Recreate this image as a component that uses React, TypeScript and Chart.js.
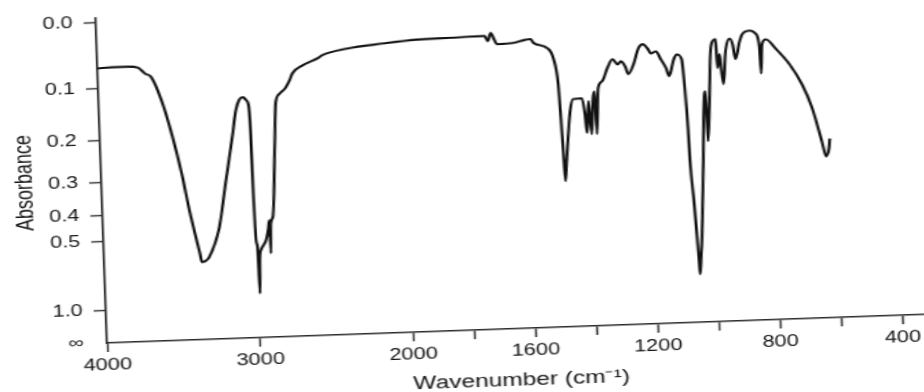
import React, { useEffect, useRef } from 'react';
import { Chart, registerables, LinearScale } from 'chart.js';

Chart.register(...registerables);

// Spectrum (wavenumber in cm^-1, absorbance)
const WAVENUMBERS = [4000, 3900, 3800, 3736, 3690, 3651, 3590, 3531, 3474, 3435, 3401, 3373, 3361, 3340, 3313, 3240, 3189, 3131, 3106, 3080, 3056, 3035, 3024, 3014, 3010, 3003, 2995, 2989, 2982, 2974, 2955, 2938, 2920, 2912, 2909, 2903, 2888, 2861, 2844, 2816, 2776, 2749, 2728, 2662, 2551, 2532, 2370, 2125, 1953, 1846, 1732, 1722, 1712, 1700, 1693, 1638, 1600, 1582, 1573, 1528, 1510, 1497, 1492, 1488, 1484, 1478, 1461, 1450, 1421, 1413, 1408, 1400, 1393, 1385, 1379, 1376, 1367, 1353, 1335, 1317, 1301, 1290, 1276, 1267, 1249, 1231, 1217, 1201, 1191, 1174, 1159, 1143, 1134, 1117, 1107, 1091, 1084, 1078, 1075, 1067, 1061, 1057, 1055, 1050, 1044, 1033, 1021, 1017, 1014, 1005, 996, 988, 978, 975, 967, 964, 957, 947, 932, 923, 915, 900, 889, 866, 846, 836, 833, 827, 814, 783, 739, 700, 670, 642, 630, 620, 616];
const ABSORBANCE = [0.067, 0.066, 0.066, 0.068, 0.078, 0.084, 0.124, 0.189, 0.283, 0.383, 0.478, 0.569, 0.617, 0.612, 0.591, 0.458, 0.314, 0.194, 0.148, 0.128, 0.124, 0.13, 0.136, 0.195, 0.346, 0.517, 0.55, 0.86, 0.6, 0.565, 0.54, 0.519, 0.47, 0.438, 0.582, 0.45, 0.427, 0.235, 0.137, 0.12, 0.11, 0.098, 0.086, 0.074, 0.062, 0.059, 0.05, 0.044, 0.04, 0.039, 0.038, 0.046, 0.034, 0.045, 0.051, 0.05, 0.046, 0.045, 0.051, 0.06, 0.076, 0.12, 0.186, 0.261, 0.342, 0.286, 0.172, 0.149, 0.148, 0.18, 0.22, 0.154, 0.223, 0.149, 0.136, 0.223, 0.13, 0.118, 0.096, 0.081, 0.09, 0.085, 0.094, 0.107, 0.091, 0.065, 0.059, 0.066, 0.074, 0.071, 0.084, 0.099, 0.113, 0.085, 0.077, 0.085, 0.136, 0.217, 0.298, 0.422, 0.561, 0.72, 0.825, 0.7, 0.562, 0.319, 0.149, 0.143, 0.249, 0.163, 0.074, 0.058, 0.055, 0.102, 0.079, 0.096, 0.131, 0.075, 0.055, 0.064, 0.088, 0.06, 0.048, 0.044, 0.049, 0.069, 0.114, 0.066, 0.058, 0.073, 0.1, 0.137, 0.184, 0.26, 0.298, 0.278, 0.253];

const X_TICKS = [4000, 3000, 2000, 1800, 1600, 1400, 1200, 1000, 800, 600, 400];
const X_TICK_LABELS = ['4000', '3000', '2000', '', '1600', '', '1200', '', '800', '', '400'];
const Y_TICKS = [0, 0.1, 0.2, 0.3, 0.4, 0.5, 1.0, Infinity];
const Y_TICK_LABELS = ['0.0', '0.1', '0.2', '0.3', '0.4', '0.5', '1.0', '\u221E'];

const X_MIN = 300;
const X_MAX = 4000;
const T_MIN = 0;
const T_MAX = 1.015;

const FONT = 'Liberation Sans, Arial, Helvetica, sans-serif';
const INK = '#141414';

// IR charts compress the 4000-2000 region by a factor of two
const fold = (w: number) => (w > 2000 ? 2000 + (w - 2000) / 2 : w);

class WavenumberScale extends LinearScale {
  static id = 'wavenumber';
  static defaults = LinearScale.defaults;
  determineDataLimits() {
    this.min = X_MIN;
    this.max = X_MAX;
  }
  buildTicks() {
    return X_TICKS.map((value) => ({ value }));
  }
  getPixelForValue(v: any) {
    if (v === null || v === undefined || Number.isNaN(v)) return NaN;
    const d = (fold(this.max) - fold(v)) / (fold(this.max) - fold(this.min));
    return this.getPixelForDecimal(d);
  }
  getValueForPixel(p: number) {
    const d = this.getDecimalForPixel(p);
    const f = fold(this.max) - d * (fold(this.max) - fold(this.min));
    return f > 2000 ? 2000 + (f - 2000) * 2 : f;
  }
}

// Absorbance axis drawn linear in transmittance (T = 10^-A)
class AbsorbanceScale extends LinearScale {
  static id = 'absorbance';
  static defaults = LinearScale.defaults;
  determineDataLimits() {
    this.min = T_MIN;
    this.max = T_MAX;
  }
  buildTicks() {
    return Y_TICKS.map((value) => ({ value }));
  }
  getPixelForValue(a: any) {
    if (a === null || a === undefined || Number.isNaN(a)) return NaN;
    const t = Math.pow(10, -a);
    return this.getPixelForDecimal((t - this.min) / (this.max - this.min));
  }
  getValueForPixel(p: number) {
    const t = this.min + this.getDecimalForPixel(p) * (this.max - this.min);
    return t > 0 ? -Math.log10(t) : Infinity;
  }
}

Chart.register(WavenumberScale, AbsorbanceScale);

export default function App() {
  const ref = useRef<HTMLCanvasElement | null>(null);

  useEffect(() => {
    if (!ref.current) return;
    const chart = new Chart(ref.current, {
      type: 'line',
      data: {
        datasets: [
          {
            data: WAVENUMBERS.map((x, i) => ({ x, y: ABSORBANCE[i] })),
            borderColor: '#111111',
            borderWidth: 2.1,
            pointRadius: 0,
            cubicInterpolationMode: 'monotone',
            borderJoinStyle: 'round',
            fill: false,
          },
        ],
      },
      options: {
        animation: false,
        responsive: false,
        events: [],
        layout: { padding: { left: 0, right: 12.5, top: 17, bottom: 0 } },
        plugins: { legend: { display: false }, tooltip: { enabled: false } },
        scales: {
          x: {
            type: 'wavenumber',
            position: 'bottom',
            afterFit: (s: any) => {
              s.height = 97;
            },
            border: { display: true, color: '#2a2a2a', width: 1.6 },
            grid: {
              display: true,
              drawOnChartArea: false,
              drawTicks: true,
              tickLength: 9,
              tickWidth: 1.4,
              tickColor: '#2a2a2a',
            },
            ticks: {
              autoSkip: false,
              maxRotation: 0,
              minRotation: 0,
              padding: 4,
              color: INK,
              font: { family: FONT, size: 16 },
              callback: (_v: any, i: number) => X_TICK_LABELS[i],
            },
            title: {
              display: true,
              text: 'Wavenumber (cm\u207B\u00B9)',
              color: INK,
              font: { family: FONT, size: 18 },
              padding: { top: 0, bottom: 34.6 },
            },
          },
          y: {
            type: 'absorbance',
            position: 'left',
            afterFit: (s: any) => {
              s.width = 70;
            },
            border: { display: true, color: '#2a2a2a', width: 1.6 },
            grid: {
              display: true,
              drawOnChartArea: false,
              drawTicks: true,
              tickLength: 9,
              tickWidth: 1.4,
              tickColor: (ctx: any) =>
                ctx.tick && ctx.tick.value === Infinity ? 'rgba(0,0,0,0)' : '#2a2a2a',
            },
            ticks: {
              autoSkip: false,
              padding: 8,
              color: INK,
              font: { family: FONT, size: 16 },
              callback: (_v: any, i: number) => Y_TICK_LABELS[i],
            },
            title: {
              display: true,
              text: 'Absorbance',
              color: INK,
              font: { family: FONT, size: 18 },
              padding: { top: 3, bottom: 0 },
            },
          },
        },
      },
    } as any);
    return () => chart.destroy();
  }, []);

  return (
    <div
      style={{
        position: 'fixed',
        left: 0,
        top: 0,
        width: 924,
        height: 392,
        overflow: 'hidden',
        background: '#ffffff',
      }}
    >
      <canvas
        ref={ref}
        width={690}
        height={440}
        style={{
          position: 'absolute',
          left: 37,
          top: 0,
          width: '690px',
          height: '440px',
          transformOrigin: '70px 343px',
          transform: 'rotate(-2deg) scaleX(1.36)',
        }}
      />
    </div>
  );
}
